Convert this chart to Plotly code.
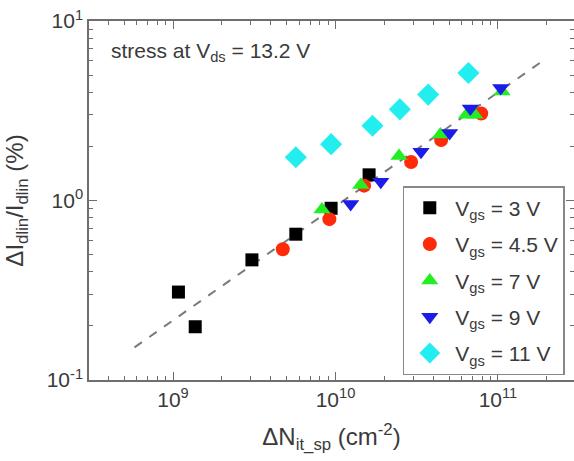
import plotly.graph_objects as go

# ---- data ----
x_3v = [1.08e9, 1.37e9, 3.06e9, 5.7e9, 9.4e9, 1.61e10]
y_3v = [0.309, 0.198, 0.467, 0.649, 0.905, 1.39]

x_45v = [4.74e9, 9.17e9, 1.50e10, 2.92e10, 4.47e10, 7.89e10]
y_45v = [0.535, 0.787, 1.21, 1.64, 2.17, 3.05]

x_7v = [8.26e9, 1.43e10, 2.46e10, 4.42e10, 6.4e10, 7.2e10, 1.06e11]
y_7v = [0.89, 1.22, 1.77, 2.33, 3.0, 3.0, 4.05]

x_9v = [1.24e10, 1.90e10, 3.36e10, 5.04e10, 6.76e10, 1.04e11]
y_9v = [0.957, 1.27, 1.87, 2.38, 3.25, 4.24]

x_11v = [5.7e9, 9.4e9, 1.69e10, 2.49e10, 3.72e10, 6.58e10]
y_11v = [1.74, 2.06, 2.61, 3.22, 3.89, 5.13]

fit_x = [5.8e8, 1.84e11]
fit_y = [0.152, 5.9]

series_names = ["V<sub>gs</sub> = 3 V", "V<sub>gs</sub> = 4.5 V", "V<sub>gs</sub> = 7 V",
                "V<sub>gs</sub> = 9 V", "V<sub>gs</sub> = 11 V"]

x_tickvals = [1e9, 1e10, 1e11]
x_ticktext = ["10<sup>9</sup>", "10<sup>10</sup>", "10<sup>11</sup>"]
y_tickvals = [0.1, 1, 10]
y_ticktext = ["10<sup>-1</sup>", "10<sup>0</sup>", "10<sup>1</sup>"]

FONT = "Arial, Liberation Sans, sans-serif"
AX = "#6e6e6e"
TXT = "#3a3a3a"

fig = go.Figure()

fig.add_trace(go.Scatter(x=fit_x, y=fit_y, mode="lines", showlegend=False,
                         line=dict(color="#7a7a7a", width=2, dash="dash")))

styles = [
    (x_3v, y_3v, "square", "#000000", 13),
    (x_45v, y_45v, "circle", "#ff2a0a", 14),
    (x_7v, y_7v, "triangle-up", "#22ee22", 15),
    (x_9v, y_9v, "triangle-down", "#1c1ce8", 15),
    (x_11v, y_11v, "diamond", "#22eef0", 17),
]
for i, (xs, ys, sym, col, sz) in enumerate(styles):
    fig.add_trace(go.Scatter(x=xs, y=ys, mode="markers", name=series_names[i],
                             legendgroup=f"g{i}",
                             marker=dict(symbol=sym, color=col, size=sz, line=dict(width=0))))

minor_x = [m * 10 ** e for e in range(8, 12) for m in range(2, 10)]
minor_y = [m * 10 ** e for e in range(-1, 1) for m in range(2, 10)]

axis_common = dict(type="log", showgrid=False, zeroline=False, showline=True,
                   linecolor=AX, linewidth=1.5, mirror="ticks", ticks="inside",
                   ticklen=8, tickwidth=1.2, tickcolor=AX,
                   tickfont=dict(family=FONT, size=21, color=TXT))

fig.update_xaxes(**axis_common, range=[8.483, 11.468], tickvals=x_tickvals, ticktext=x_ticktext,
                 minor=dict(tickvals=minor_x, ticks="inside", ticklen=4, tickcolor=AX, tickwidth=1.2),
                 title=dict(text="ΔN<sub>it_sp</sub> (cm<sup>-2</sup>)",
                            font=dict(family=FONT, size=24, color=TXT), standoff=18))
fig.update_yaxes(**axis_common, range=[-1, 1], tickvals=y_tickvals, ticktext=y_ticktext,
                 minor=dict(tickvals=minor_y, ticks="inside", ticklen=4, tickcolor=AX, tickwidth=1.2),
                 title=dict(text="ΔI<sub>dlin</sub>/I<sub>dlin</sub> (%)",
                            font=dict(family=FONT, size=24, color=TXT), standoff=16))

fig.add_annotation(text="stress at V<sub>ds</sub> = 13.2 V", xref="paper", yref="paper",
                   x=0.041, y=0.914, xanchor="left", yanchor="middle", showarrow=False,
                   font=dict(family=FONT, size=21, color=TXT))

fig.update_layout(
    width=574, height=461,
    margin=dict(l=89, r=0, t=21, b=81, autoexpand=False),
    plot_bgcolor="white", paper_bgcolor="white",
    legend=dict(x=0.647, y=0.54, xanchor="left", yanchor="top",
                bgcolor="white", bordercolor="#888888", borderwidth=1.5,
                font=dict(family=FONT, size=21, color=TXT),
                itemwidth=41,
                tracegroupgap=6, traceorder="grouped"),
)

fig.write_html("out.html")
